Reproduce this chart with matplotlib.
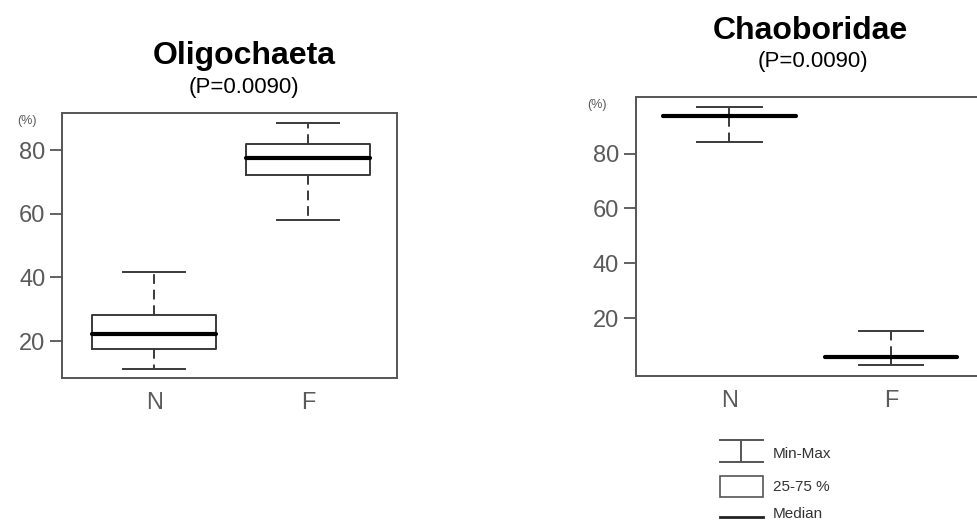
import matplotlib
matplotlib.use("Agg")
import matplotlib.pyplot as plt
from matplotlib.lines import Line2D
from matplotlib.patches import Rectangle

plt.rcParams['font.family'] = ['Liberation Sans', 'DejaVu Sans']

# ---- data ----
categories = ["N", "F"]
positions = [1, 2]

oligo_min = [11.3, 58.0]
oligo_q1 = [17.5, 72.2]
oligo_med = [22.1, 77.6]
oligo_q3 = [28.1, 82.1]
oligo_max = [41.8, 88.4]

chao_min = [84.3, 3.0]
chao_q1 = [93.3, 5.6]
chao_med = [93.7, 6.0]
chao_q3 = [94.1, 6.4]
chao_max = [96.9, 15.4]

left_yticks = [20, 40, 60, 80]
right_yticks = [20, 40, 60, 80]

W, H = 977, 524
fig = plt.figure(figsize=(W / 100, H / 100), dpi=100)
fig.patch.set_facecolor("white")

GREY = "#555555"
TICKC = "#5a5a5a"


def stats(mins, q1s, meds, q3s, maxs):
    out = []
    for lo, a, m, b, hi, lab in zip(mins, q1s, meds, q3s, maxs, categories):
        out.append(dict(whislo=lo, q1=a, med=m, q3=b, whishi=hi, fliers=[], label=lab))
    return out


def panel(rect, st, xlim, ylim, yticks, width):
    ax = fig.add_axes(rect)
    ax.bxp(st, positions=positions, widths=width, showfliers=False,
           boxprops=dict(color="#3a3a3a", linewidth=1.4),
           whiskerprops=dict(color="#3a3a3a", linewidth=1.4, linestyle=(0, (5, 3))),
           capprops=dict(color="#3a3a3a", linewidth=1.4),
           medianprops=dict(color="black", linewidth=3.0, solid_capstyle="round"),
           capwidths=0.4)
    ax.set_xlim(*xlim)
    ax.set_ylim(*ylim)
    ax.set_yticks(yticks)
    ax.set_yticklabels([str(t) for t in yticks])
    ax.set_xticks(positions)
    ax.set_xticklabels(categories)
    for s in ax.spines.values():
        s.set_color(GREY)
        s.set_linewidth(1.4)
    ax.tick_params(axis="y", length=9, width=1.3, color=GREY, labelcolor=TICKC,
                   labelsize=17, pad=3)
    ax.tick_params(axis="x", length=0, labelcolor=TICKC, labelsize=17, pad=10)
    return ax


# left panel
axL = panel([62 / W, 1 - 378 / H, 335 / W, 265 / H],
            stats(oligo_min, oligo_q1, oligo_med, oligo_q3, oligo_max),
            (0.40, 2.58), (8.4, 91.7), left_yticks, 0.81)
# right panel (extends beyond right edge, as in reference)
axR = panel([635.7 / W, 1 - 375.7 / H, 349 / W, 278.4 / H],
            stats(chao_min, chao_q1, chao_med, chao_q3, chao_max),
            (0.42, 2.58), (-0.9, 100.5), right_yticks, 0.82)

# overlay for text and legend in pixel coords
ov = fig.add_axes([0, 0, 1, 1], facecolor="none")
ov.set_xlim(0, W)
ov.set_ylim(H, 0)
ov.axis("off")

ov.text(244, 56, "Oligochaeta", ha="center", va="center", fontsize=23, fontweight="bold")
ov.text(244, 88, "(P=0.0090)", ha="center", va="center", fontsize=16)
ov.text(810, 31, "Chaoboridae", ha="center", va="center", fontsize=23, fontweight="bold")
ov.text(813, 62, "(P=0.0090)", ha="center", va="center", fontsize=16)
ov.text(27, 121, "(%)", ha="center", va="center", fontsize=9, color=TICKC)
ov.text(597, 105, "(%)", ha="center", va="center", fontsize=9, color=TICKC)

# legend
lc = "#555555"
ov.add_line(Line2D([720, 763], [440, 440], color=lc, lw=1.4))
ov.add_line(Line2D([720, 763], [462, 462], color=lc, lw=1.4))
ov.add_line(Line2D([741, 741], [440, 462], color=lc, lw=1.4))
ov.add_patch(Rectangle((720, 476), 43, 21, fill=False, edgecolor=lc, lw=1.2))
ov.add_line(Line2D([720, 763], [517, 517], color="#222222", lw=2.0))
ov.text(773, 454, "Min-Max", ha="left", va="center", fontsize=11, color="#333333")
ov.text(773, 487, "25-75 %", ha="left", va="center", fontsize=11, color="#333333")
ov.text(773, 514, "Median", ha="left", va="center", fontsize=11, color="#333333")

fig.savefig("out.png", dpi=100)
